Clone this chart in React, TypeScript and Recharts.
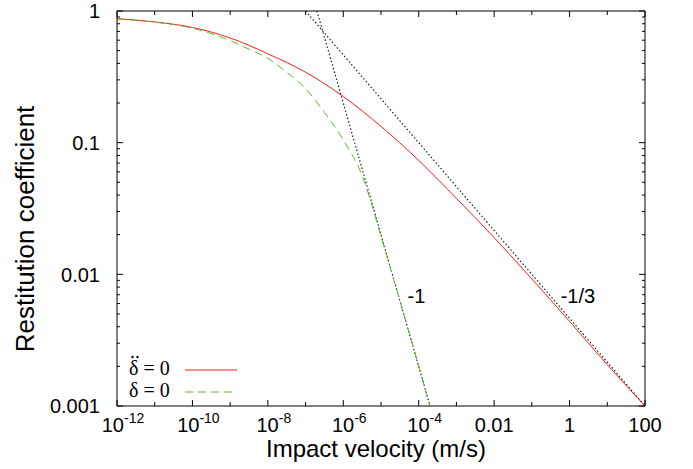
import React from "react";
import {
  Customized,
  Line,
  LineChart,
  ReferenceDot,
  ReferenceLine,
  XAxis,
  YAxis,
} from "recharts";

// restitution coefficient vs impact velocity (m/s)
const ddotVelocity = [
  1e-12, 1e-11, 1e-10, 1e-9, 1e-8, 1e-7, 1e-6, 1e-5, 1e-4, 1e-3, 1e-2, 1e-1, 1,
  10, 100,
];
const ddotCoef = [
  0.873, 0.826, 0.75, 0.624, 0.473, 0.343, 0.224, 0.133, 0.0733, 0.0378, 0.019,
  0.00923, 0.00439, 0.00206, 0.001,
];

const zeroVelocity = [
  1e-12, 1e-11, 1e-10, 1e-9, 3.16e-9, 1e-8, 3.16e-8, 1e-7, 3.16e-7, 1e-6,
  3.16e-6, 1e-5, 3.16e-5, 1e-4, 2e-4,
];
const zeroCoef = [
  0.873, 0.822, 0.741, 0.596, 0.513, 0.437, 0.343, 0.257, 0.17, 0.105, 0.0562,
  0.0195, 0.00631, 0.002, 0.001,
];

// power-law guides
const slopeOneVelocity = [2e-7, 2e-4];
const slopeOneCoef = [1, 0.001];
const slopeThirdVelocity = [1e-7, 100];
const slopeThirdCoef = [1, 0.001];

const slopeNotes = [
  { v: 8.7e-5, e: 0.0069, text: "-1" },
  { v: 1.66, e: 0.0069, text: "-1/3" },
];

const xTicks = [
  1e-12, 1e-11, 1e-10, 1e-9, 1e-8, 1e-7, 1e-6, 1e-5, 1e-4, 1e-3, 1e-2, 1e-1, 1,
  10, 100,
];
const xTickLabels = [
  "10^-12", "", "10^-10", "", "10^-8", "", "10^-6", "", "10^-4", "", "0.01", "",
  "1", "", "100",
];
const yTicks = [
  0.001, 0.002, 0.003, 0.004, 0.005, 0.006, 0.007, 0.008, 0.009, 0.01, 0.02,
  0.03, 0.04, 0.05, 0.06, 0.07, 0.08, 0.09, 0.1, 0.2, 0.3, 0.4, 0.5, 0.6, 0.7,
  0.8, 0.9, 1,
];
const yTickLabels: Record<string, string> = {
  "0.001": "0.001",
  "0.01": "0.01",
  "0.1": "0.1",
  "1": "1",
};

const W = 693;
const H = 469;
const PLOT = { left: 117, right: 645, top: 11, bottom: 406 };
const SANS = "'Liberation Sans', Arial, Helvetica, sans-serif";
const SERIF = "'Liberation Serif', 'Times New Roman', serif";
const RED = "#ff1a1a";
const GREEN = "#5cb832";
const DOTS = "1.4 2.3";

const toPoints = (vs: number[], es: number[]) =>
  vs.map((v, i) => ({ v, e: es[i] }));

function XTick(props: any) {
  const { x, y, index } = props;
  const label = xTickLabels[index] ?? "";
  const len = label ? 6 : 4;
  let text = null;
  if (label.includes("^")) {
    const [base, sup] = label.split("^");
    text = (
      <text x={x + 6} y={y + 26} textAnchor="middle" fontSize={20} fill="#000">
        {base}
        <tspan fontSize={14} dy={-9}>
          {sup}
        </tspan>
      </text>
    );
  } else if (label) {
    text = (
      <text x={x} y={y + 26} textAnchor="middle" fontSize={20} fill="#000">
        {label}
      </text>
    );
  }
  return (
    <g>
      <line x1={x} y1={y} x2={x} y2={y - len} stroke="#000" />
      <line x1={x} y1={PLOT.top} x2={x} y2={PLOT.top + len} stroke="#000" />
      {text}
    </g>
  );
}

function YTick(props: any) {
  const { x, y, payload } = props;
  const label = yTickLabels[String(payload.value)];
  const len = label ? 6 : 3;
  return (
    <g>
      <line x1={x} y1={y} x2={x + len} y2={y} stroke="#000" />
      <line x1={PLOT.right} y1={y} x2={PLOT.right - len} y2={y} stroke="#000" />
      {label && (
        <text
          x={x - 17}
          y={y}
          dy="0.36em"
          textAnchor="end"
          fontSize={20}
          fill="#000"
        >
          {label}
        </text>
      )}
    </g>
  );
}

function Overlay() {
  return (
    <g>
      <text
        x={34}
        y={229}
        transform="rotate(-90 34 229)"
        textAnchor="middle"
        fontSize={26}
        fontFamily={SANS}
        fill="#000"
      >
        Restitution coefficient
      </text>
      <text
        x={376}
        y={457}
        textAnchor="middle"
        fontSize={24}
        fontFamily={SANS}
        fill="#000"
      >
        Impact velocity (m/s)
      </text>
      <g fontFamily={SERIF} fontSize={20} fill="#000">
        <text x={129} y={375}>
          δ = 0
        </text>
        <circle cx={132.5} cy={357} r={1.2} />
        <circle cx={137.5} cy={357} r={1.2} />
        <text x={129} y={397}>
          δ = 0
        </text>
      </g>
      <line x1={185} y1={370} x2={237} y2={370} stroke={RED} />
      <line
        x1={185}
        y1={392}
        x2={237}
        y2={392}
        stroke={GREEN}
        strokeDasharray="8 5"
      />
    </g>
  );
}

export default function App() {
  return (
    <div style={{ position: "absolute", left: 0, top: 0 }}>
      <LineChart
        width={W}
        height={H}
        margin={{ top: PLOT.top, right: W - PLOT.right, left: 0, bottom: 0 }}
        style={{ fontFamily: SANS }}
      >
        <XAxis
          type="number"
          dataKey="v"
          scale="log"
          domain={[1e-12, 100]}
          allowDataOverflow
          ticks={xTicks}
          interval={0}
          tickSize={0}
          tickMargin={0}
          tickLine={false}
          tick={XTick}
          axisLine={{ stroke: "#000" }}
          height={H - PLOT.bottom}
        />
        <YAxis
          type="number"
          dataKey="e"
          scale="log"
          domain={[0.001, 1]}
          allowDataOverflow
          ticks={yTicks}
          interval={0}
          tickSize={0}
          tickMargin={0}
          tickLine={false}
          tick={YTick}
          axisLine={{ stroke: "#000" }}
          width={PLOT.left}
        />
        <ReferenceLine y={1} stroke="#000" />
        <ReferenceLine x={100} stroke="#000" />

        <Line
          data={toPoints(slopeOneVelocity, slopeOneCoef)}
          dataKey="e"
          type="linear"
          stroke="#000"
          strokeWidth={1.1}
          strokeDasharray={DOTS}
          dot={false}
          isAnimationActive={false}
        />
        <Line
          data={toPoints(slopeThirdVelocity, slopeThirdCoef)}
          dataKey="e"
          type="linear"
          stroke="#000"
          strokeWidth={1.1}
          strokeDasharray={DOTS}
          dot={false}
          isAnimationActive={false}
        />
        <Line
          data={toPoints(ddotVelocity, ddotCoef)}
          dataKey="e"
          type="monotone"
          stroke={RED}
          strokeWidth={1}
          dot={false}
          isAnimationActive={false}
        />
        <Line
          data={toPoints(zeroVelocity, zeroCoef)}
          dataKey="e"
          type="monotone"
          stroke={GREEN}
          strokeWidth={1}
          strokeDasharray="8 5"
          dot={false}
          isAnimationActive={false}
        />

        {slopeNotes.map((n) => (
          <ReferenceDot
            key={n.text}
            x={n.v}
            y={n.e}
            r={0}
            fill="none"
            stroke="none"
            label={{
              value: n.text,
              position: "center",
              fontSize: 20,
              fill: "#000",
              fontFamily: SANS,
            }}
          />
        ))}
        <Customized component={Overlay} />
      </LineChart>
    </div>
  );
}
